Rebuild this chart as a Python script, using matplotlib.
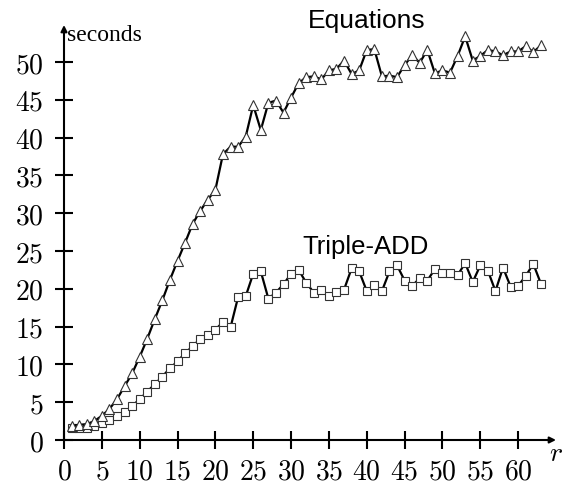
import matplotlib
matplotlib.use("Agg")
import matplotlib.pyplot as plt
import numpy as np

plt.rcParams["mathtext.fontset"] = "cm"

# r values (1..63) and timings in seconds
r_vals = list(range(1, 64))

equations = [
    1.9, 2.0, 2.1, 2.5, 3.2, 4.1, 5.4, 7.1, 8.8, 11.0,
    13.4, 16.0, 18.5, 21.2, 23.7, 26.1, 28.6, 30.3, 31.8, 33.1,
    37.8, 38.8, 38.8, 40.1, 44.3, 41.0, 44.6, 44.9, 43.3, 45.3,
    47.2, 48.0, 48.1, 47.7, 48.9, 49.1, 50.2, 48.4, 48.9, 51.6,
    51.7, 48.1, 48.2, 48.0, 49.6, 50.9, 49.9, 51.6, 48.5, 48.9,
    48.6, 50.8, 53.4, 50.2, 50.8, 51.6, 51.4, 50.9, 51.4, 51.4,
    52.1, 51.3, 52.2,
]

triple_add = [
    1.55, 1.6, 1.6, 1.9, 2.3, 2.7, 3.2, 3.7, 4.5, 5.4,
    6.4, 7.4, 8.4, 9.5, 10.4, 11.5, 12.4, 13.4, 13.9, 14.6,
    15.6, 14.9, 18.9, 19.0, 22.0, 22.3, 18.7, 19.5, 20.6, 22.0,
    22.5, 20.8, 19.5, 19.8, 19.0, 19.6, 19.9, 22.7, 22.3, 19.7,
    20.5, 19.7, 22.3, 23.1, 21.1, 20.4, 21.4, 21.1, 22.6, 22.1,
    22.1, 21.8, 23.4, 20.9, 23.1, 22.4, 19.7, 22.8, 20.3, 20.4,
    21.7, 23.3, 20.7,
]

x_ticks = list(range(0, 61, 5))
y_ticks = list(range(0, 51, 5))

fig = plt.figure(figsize=(5.64, 4.84), dpi=100)
ax = fig.add_axes([64 / 564, 44 / 484, 492 / 564, 415 / 484])
ax.set_xlim(0, 65)
ax.set_ylim(0, 54.9)

ax.plot(r_vals, triple_add, color="black", lw=1.6, marker="s", ms=5.8,
        mfc="white", mec="#333333", mew=0.8, zorder=3)
ax.plot(r_vals, equations, color="black", lw=1.6, marker="^", ms=6.8,
        mfc="white", mec="#333333", mew=0.8, zorder=4)

# axes drawn as arrows from the origin
for s in ax.spines.values():
    s.set_visible(False)
ax.annotate("", xy=(1.0, 0), xytext=(0, 0), xycoords="axes fraction",
            arrowprops=dict(arrowstyle="-|>", lw=1.5, color="black",
                            mutation_scale=9, shrinkA=0, shrinkB=0))
ax.annotate("", xy=(0, 1.0), xytext=(0, 0), xycoords="axes fraction",
            arrowprops=dict(arrowstyle="-|>", lw=1.5, color="black",
                            mutation_scale=9, shrinkA=0, shrinkB=0))

ax.set_xticks(x_ticks)
ax.set_xticklabels([f"${v}$" for v in x_ticks], fontsize=20)
ax.set_yticks(y_ticks)
ax.set_yticklabels([f"${v}$" for v in y_ticks], fontsize=20)
ax.tick_params(direction="inout", length=13, width=1.5, color="black")
ax.tick_params(axis="x", pad=6)
ax.tick_params(axis="y", pad=8)

ax.text(0.45, 54.9, "seconds", fontsize=17, family="Liberation Serif",
        va="top", ha="left")
ax.text(65, -1.7, "$r$", fontsize=20, va="center", ha="center")

ax.text(40.0, 55.4, "Equations", fontsize=19, family="Liberation Sans",
        ha="center", va="center", clip_on=False)
ax.text(39.8, 25.5, "Triple-ADD", fontsize=18.5, family="Liberation Sans",
        ha="center", va="center")

plt.savefig("out.png", dpi=100)
